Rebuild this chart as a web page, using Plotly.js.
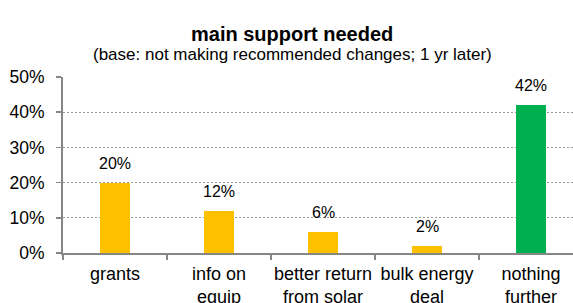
<!DOCTYPE html>
<html>
<head>
<meta charset="utf-8">
<script src="https://cdn.plot.ly/plotly-3.0.1.min.js"></script>
<style>
html,body{margin:0;padding:0;overflow:hidden;background:#fff;}
#chart{width:584px;height:303px;}
</style>
</head>
<body>
<div id="chart"></div>
<script>
const categories = ["grants", "info on<br>equip", "better return<br>from solar", "bulk energy<br>deal", "nothing<br>further"];
const values = [0.20, 0.12, 0.06, 0.02, 0.42];
const barColors = ["#FFC000", "#FFC000", "#FFC000", "#FFC000", "#00B050"];
const labels = ["20%", "12%", "6%", "2%", "42%"];
const yTickVals = [0, 0.1, 0.2, 0.3, 0.4, 0.5];
const yTickText = ["0%", "10%", "20%", "30%", "40%", "50%"];
const titleText = "main support needed";
const subtitleText = "(base: not making recommended changes; 1 yr later)";

const W = 584, H = 303, ML = 63, MR = 1, MT = 77, MB = 50;
const FONT = "Liberation Sans, Arial, sans-serif";
const grey = "#868686";

const annotations = categories.map((c, i) => ({
  x: c, y: values[i], xref: "x", yref: "y",
  text: labels[i], showarrow: false, yanchor: "bottom", yshift: 9,
  font: {family: FONT, size: 16, color: "#000"}
}));
const cx = (W / 2 - ML) / (W - ML - MR);
annotations.push({
  x: cx, y: 1, xref: "paper", yref: "paper", xanchor: "center", yanchor: "bottom",
  yshift: 30, showarrow: false, text: "<b>" + titleText + "</b>",
  font: {family: FONT, size: 20, color: "#000"}
});
annotations.push({
  x: cx, y: 1, xref: "paper", yref: "paper", xanchor: "center", yanchor: "bottom",
  yshift: 11, showarrow: false, text: subtitleText,
  font: {family: FONT, size: 17, color: "#000"}
});

const trace = {
  type: "bar", x: categories, y: values, width: 0.29,
  marker: {color: barColors, line: {width: 0}},
  hoverinfo: "none"
};

const layout = {
  width: W, height: H,
  margin: {l: ML, r: MR, t: MT, b: MB, pad: 0},
  paper_bgcolor: "#fff", plot_bgcolor: "#fff",
  showlegend: false,
  font: {family: FONT, size: 17, color: "#000"},
  xaxis: {
    type: "category", tickson: "boundaries", ticks: "outside", ticklen: 5,
    tickcolor: grey, tickwidth: 1.5, showline: true, linecolor: grey, linewidth: 2,
    showgrid: false, tickfont: {family: FONT, size: 18, color: "#000"},
    tickangle: 0, ticklabelstandoff: 3, fixedrange: true
  },
  yaxis: {
    range: [0, 0.5], tickvals: yTickVals, ticktext: yTickText,
    ticks: "outside", ticklen: 5, tickcolor: grey, tickwidth: 1.5,
    showline: true, linecolor: grey, linewidth: 2,
    showgrid: true, gridcolor: "#9a9a9a", griddash: "2px,2px", gridwidth: 1,
    zeroline: false, tickfont: {family: FONT, size: 17.5, color: "#000"},
    ticklabelstandoff: 8, fixedrange: true
  },
  annotations: annotations,
  bargap: 0
};

Plotly.newPlot("chart", [trace], layout, {displayModeBar: false, staticPlot: true});
</script>
</body>
</html>
